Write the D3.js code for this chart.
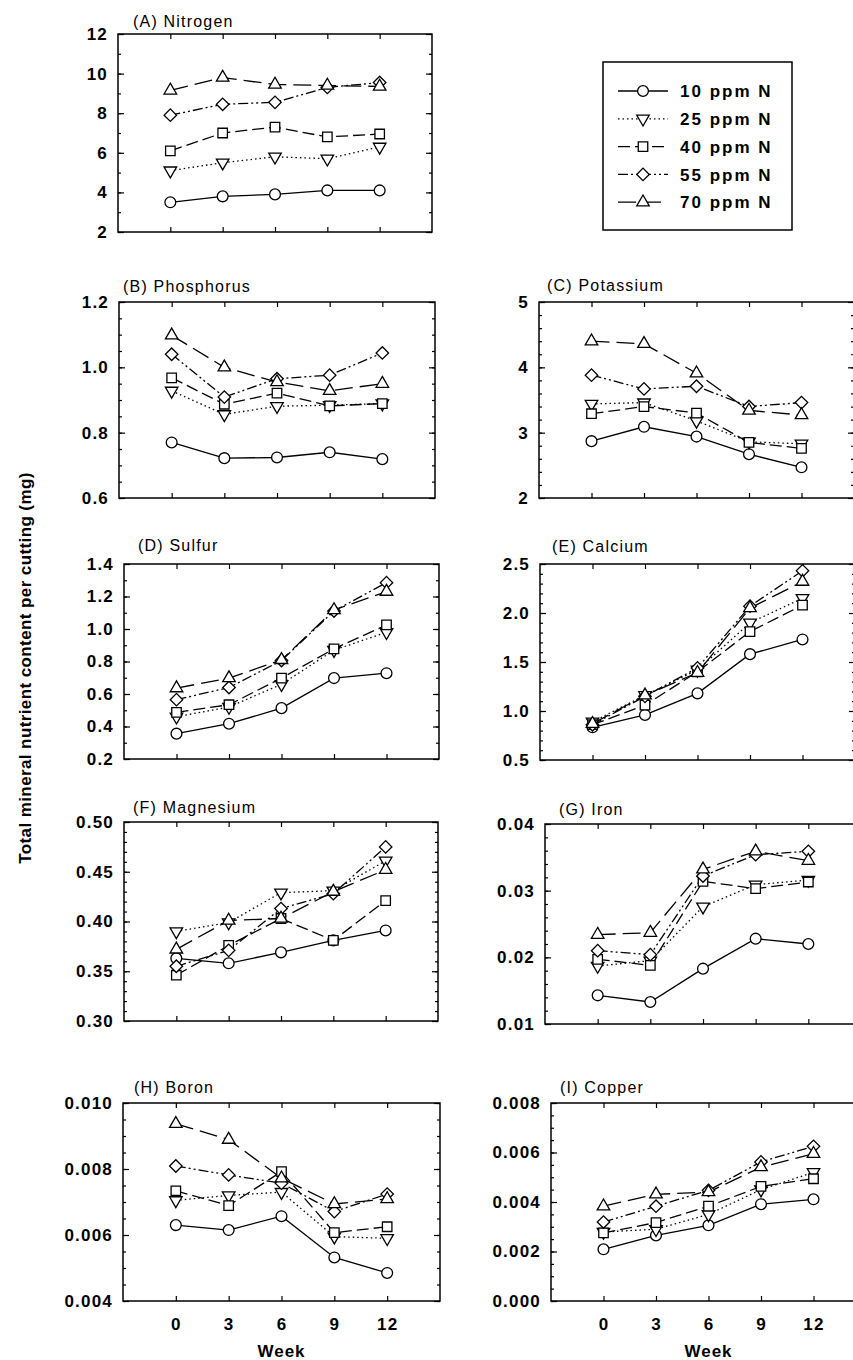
<!DOCTYPE html>
<html>
<head>
<meta charset="utf-8">
<script src="https://cdn.jsdelivr.net/npm/d3@7"></script>
<style>
  body { margin: 0; background: #fff; }
  svg { display: block; }
  text { font-family: "Liberation Sans", Arial, Helvetica, sans-serif; fill: #000; }
</style>
</head>
<body>
<svg id="chart" width="853" height="1360"></svg>
<script>
// Data
//
var weeks = [0, 3, 6, 9, 12]
var series = ['10 ppm N', '25 ppm N', '40 ppm N', '55 ppm N', '70 ppm N']
var weekTicks = [0, 3, 6, 9, 12]

// one row per series (10, 25, 40, 55, 70 ppm N), one value per week
var nitrogen = [
  [3.5, 3.8, 3.9, 4.1, 4.1],
  [5.1, 5.5, 5.8, 5.7, 6.3],
  [6.1, 7.0, 7.3, 6.8, 6.95],
  [7.9, 8.45, 8.55, 9.3, 9.55],
  [9.15, 9.8, 9.45, 9.4, 9.35]
]
var phosphorus = [
  [0.77, 0.722, 0.724, 0.74, 0.719],
  [0.928, 0.856, 0.881, 0.884, 0.889],
  [0.968, 0.887, 0.921, 0.882, 0.889],
  [1.04, 0.909, 0.965, 0.976, 1.044],
  [1.098, 1.0, 0.955, 0.928, 0.95]
]
var potassium = [
  [2.87, 3.09, 2.94, 2.67, 2.47],
  [3.44, 3.46, 3.18, 2.86, 2.83],
  [3.29, 3.40, 3.30, 2.85, 2.76],
  [3.88, 3.67, 3.71, 3.40, 3.46],
  [4.40, 4.36, 3.91, 3.34, 3.27]
]
var sulfur = [
  [0.356, 0.417, 0.513, 0.698, 0.728],
  [0.46, 0.52, 0.66, 0.87, 0.98],
  [0.487, 0.534, 0.698, 0.878, 1.025],
  [0.565, 0.64, 0.806, 1.111, 1.285],
  [0.636, 0.698, 0.81, 1.117, 1.23]
]
var calcium = [
  [0.834, 0.96, 1.18, 1.58, 1.73],
  [0.89, 1.16, 1.42, 1.90, 2.15],
  [0.86, 1.06, 1.40, 1.81, 2.08],
  [0.86, 1.15, 1.44, 2.07, 2.43],
  [0.87, 1.16, 1.39, 2.05, 2.32]
]
var magnesium = [
  [0.363, 0.358, 0.369, 0.381, 0.391],
  [0.390, 0.399, 0.429, 0.431, 0.461],
  [0.346, 0.376, 0.403, 0.381, 0.421],
  [0.355, 0.371, 0.413, 0.428, 0.475],
  [0.372, 0.401, 0.403, 0.430, 0.452]
]
var iron = [
  [0.0143, 0.0133, 0.0183, 0.0228, 0.0220],
  [0.0187, 0.0195, 0.0276, 0.0309, 0.0316],
  [0.0197, 0.0188, 0.0314, 0.0303, 0.0313],
  [0.0210, 0.0204, 0.0322, 0.0354, 0.0359],
  [0.0234, 0.0237, 0.0332, 0.0359, 0.0345]
]
var boron = [
  [0.0063, 0.00615, 0.00657, 0.00532, 0.00485],
  [0.00705, 0.0072, 0.0073, 0.00595, 0.0059],
  [0.00734, 0.00689, 0.00792, 0.00607, 0.00625],
  [0.00809, 0.00782, 0.00757, 0.00671, 0.00724],
  [0.00937, 0.00889, 0.00772, 0.00694, 0.00709]
]
var copper = [
  [0.00209, 0.00265, 0.00306, 0.00391, 0.00411],
  [0.00279, 0.0029, 0.0035, 0.0045, 0.0052],
  [0.00275, 0.00317, 0.00383, 0.00463, 0.00494],
  [0.00319, 0.00383, 0.00447, 0.00562, 0.00625],
  [0.00383, 0.00431, 0.0044, 0.00541, 0.00595]
]

// tick labels of each panel
var nitrogenTicks = [2, 4, 6, 8, 10, 12]
var phosphorusTicks = [0.6, 0.8, 1.0, 1.2]
var potassiumTicks = [2, 3, 4, 5]
var sulfurTicks = [0.2, 0.4, 0.6, 0.8, 1.0, 1.2, 1.4]
var calciumTicks = [0.5, 1.0, 1.5, 2.0, 2.5]
var magnesiumTicks = [0.30, 0.35, 0.40, 0.45, 0.50]
var ironTicks = [0.01, 0.02, 0.03, 0.04]
var boronTicks = [0.004, 0.006, 0.008, 0.010]
var copperTicks = [0.000, 0.002, 0.004, 0.006, 0.008]

// Layout
//
// box = [left, top, right, bottom], title offset from box corner
var panels = [
  { title: '(A) Nitrogen', values: nitrogen, ticks: nitrogenTicks, minor: 1, fmt: '.0f', box: [118, 34, 432, 232], tx: 15, ty: -7 },
  { title: '(B) Phosphorus', values: phosphorus, ticks: phosphorusTicks, minor: 0.05, fmt: '.1f', box: [119, 302, 435, 498], tx: 4, ty: -10 },
  { title: '(C) Potassium', values: potassium, ticks: potassiumTicks, minor: 0.2, fmt: '.0f', box: [539, 302, 854, 498], tx: 8, ty: -11 },
  { title: '(D) Sulfur', values: sulfur, ticks: sulfurTicks, minor: 0.1, fmt: '.1f', box: [124, 564, 439, 759], tx: 14, ty: -13 },
  { title: '(E) Calcium', values: calcium, ticks: calciumTicks, minor: 0.1, fmt: '.1f', box: [540, 564, 855, 760], tx: 12, ty: -12 },
  { title: '(F) Magnesium', values: magnesium, ticks: magnesiumTicks, minor: 0.01, fmt: '.2f', box: [124, 822, 438, 1021], tx: 9, ty: -9 },
  { title: '(G) Iron', values: iron, ticks: ironTicks, minor: 0.002, fmt: '.2f', box: [545, 824, 861, 1024], tx: 14, ty: -9 },
  { title: '(H) Boron', values: boron, ticks: boronTicks, minor: 0.0005, fmt: '.3f', box: [123, 1103, 440, 1301], tx: 11, ty: -10, week: true },
  { title: '(I) Copper', values: copper, ticks: copperTicks, minor: 0.0005, fmt: '.3f', box: [551, 1103, 866, 1301], tx: 9, ty: -10, week: true }
]

// line styles and symbols per series
var dashes = [null, '1.5,3', '12,5', '10,3,2,3,2,3', '18,7']
var symbols = [
  { type: d3.symbolCircle, size: 92, rot: 0 },
  { type: d3.symbolTriangle, size: 68, rot: 180 },
  { type: d3.symbolSquare, size: 90, rot: 0 },
  { type: d3.symbolSquare, size: 78, rot: 45 },
  { type: d3.symbolTriangle, size: 68, rot: 0 }
]

var svg = d3.select('#chart')

function drawMarker(g, i, x, y) {
  var s = symbols[i]
  g.append('path')
    .attr('d', d3.symbol().type(s.type).size(s.size)())
    .attr('transform', 'translate(' + x + ',' + y + ') rotate(' + s.rot + ')')
    .attr('fill', '#fff')
    .attr('stroke', '#000')
    .attr('stroke-width', 1.3)
}

function styleTicks(axisG) {
  axisG.select('.domain').remove()
  axisG.selectAll('line').attr('stroke', '#000').attr('stroke-width', 1.2)
  axisG.selectAll('text')
    .style('font-size', '17px')
    .style('font-weight', 'bold')
    .style('letter-spacing', '1.2px')
}

panels.forEach(function (p) {
  var l = p.box[0], t = p.box[1], r = p.box[2], b = p.box[3]
  var x = d3.scaleLinear().domain([-3, 15]).range([l, r])
  var lo = p.ticks[0], hi = p.ticks[p.ticks.length - 1]
  var y = d3.scaleLinear().domain([lo, hi]).range([b, t])
  var g = svg.append('g')
  var minorTicks = d3.range(Math.round((hi - lo) / p.minor) + 1).map(function (k) { return lo + k * p.minor })

  // left axis: major with labels, minor without
  var left = g.append('g').attr('transform', 'translate(' + l + ',0)')
    .call(d3.axisLeft(y).tickValues(p.ticks).tickSize(-6).tickPadding(10).tickFormat(d3.format(p.fmt)))
  styleTicks(left)
  var leftMinor = g.append('g').attr('transform', 'translate(' + l + ',0)')
    .call(d3.axisLeft(y).tickValues(minorTicks).tickSize(-3).tickFormat(''))
  styleTicks(leftMinor)
  // right axis mirror
  var right = g.append('g').attr('transform', 'translate(' + r + ',0)')
    .call(d3.axisRight(y).tickValues(p.ticks).tickSize(-6).tickFormat(''))
  styleTicks(right)
  var rightMinor = g.append('g').attr('transform', 'translate(' + r + ',0)')
    .call(d3.axisRight(y).tickValues(minorTicks).tickSize(-3).tickFormat(''))
  styleTicks(rightMinor)
  // top and bottom week ticks
  var top = g.append('g').attr('transform', 'translate(0,' + t + ')')
    .call(d3.axisTop(x).tickValues(weekTicks).tickSize(-5).tickFormat(''))
  styleTicks(top)
  var bottom = g.append('g').attr('transform', 'translate(0,' + b + ')')
    .call(d3.axisBottom(x).tickValues(weekTicks).tickSize(-5).tickPadding(17)
      .tickFormat(p.week ? d3.format('d') : ''))
  styleTicks(bottom)

  // frame
  g.append('rect')
    .attr('x', l).attr('y', t)
    .attr('width', r - l).attr('height', b - t)
    .attr('fill', 'none')
    .attr('stroke', '#000')
    .attr('stroke-width', 1.5)

  // title
  g.append('text')
    .attr('x', l + p.tx).attr('y', t + p.ty)
    .style('font-size', '16px')
    .style('letter-spacing', '1.2px')
    .text(p.title)

  if (p.week) {
    g.append('text')
      .attr('x', x(6)).attr('y', 1357)
      .attr('text-anchor', 'middle')
      .style('font-size', '17px')
      .style('font-weight', 'bold')
      .style('letter-spacing', '1px')
      .text('Week')
  }

  // lines
  var line = d3.line()
    .x(function (d, k) { return x(weeks[k]) })
    .y(function (d) { return y(d) })
  p.values.forEach(function (vals, i) {
    g.append('path')
      .attr('d', line(vals))
      .attr('fill', 'none')
      .attr('stroke', '#000')
      .attr('stroke-width', 1.3)
      .attr('stroke-dasharray', dashes[i])
  })
  // markers
  p.values.forEach(function (vals, i) {
    vals.forEach(function (v, k) {
      drawMarker(g, i, x(weeks[k]), y(v))
    })
  })
})

// Legend
//
var legend = svg.append('g')
legend.append('rect')
  .attr('x', 603).attr('y', 62)
  .attr('width', 189).attr('height', 168)
  .attr('fill', 'none')
  .attr('stroke', '#000')
  .attr('stroke-width', 1.5)
series.forEach(function (name, i) {
  var yy = 91 + i * 27.8
  legend.append('line')
    .attr('x1', 618).attr('x2', 668)
    .attr('y1', yy).attr('y2', yy)
    .attr('stroke', '#000')
    .attr('stroke-width', 1.3)
    .attr('stroke-dasharray', dashes[i])
  drawMarker(legend, i, 643, yy)
  legend.append('text')
    .attr('x', 680).attr('y', yy)
    .attr('dy', '0.36em')
    .style('font-size', '17px')
    .style('font-weight', 'bold')
    .style('letter-spacing', '2px')
    .text(name)
})

// y axis label
svg.append('text')
  .attr('transform', 'translate(31,668) rotate(-90)')
  .attr('text-anchor', 'middle')
  .style('font-size', '17px')
  .style('font-weight', 'bold')
  .style('letter-spacing', '0.4px')
  .text('Total mineral nutrient content per cutting (mg)')
</script>
</body>
</html>
